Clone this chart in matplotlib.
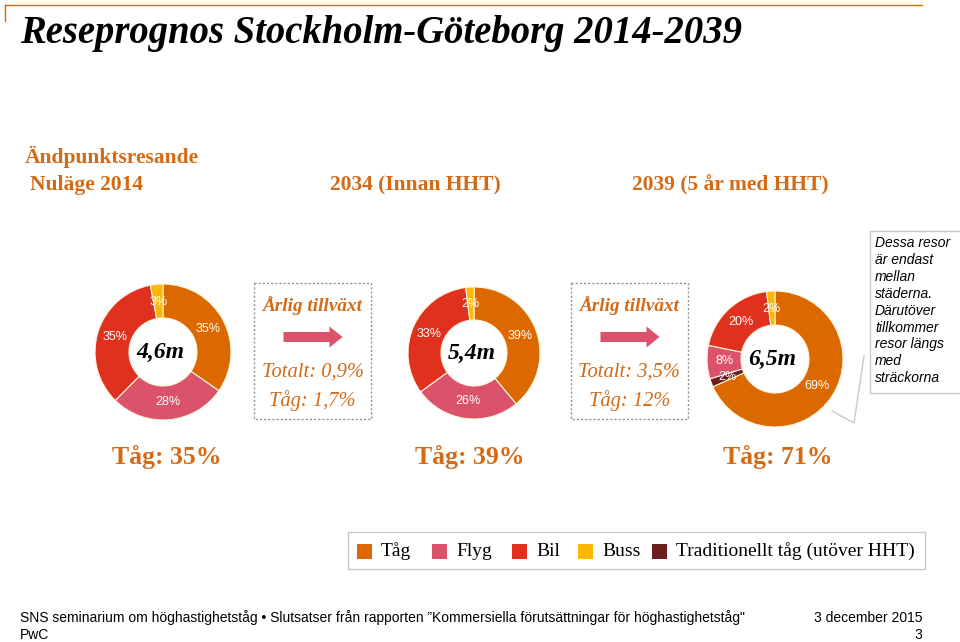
import numpy as np
import matplotlib
matplotlib.use("Agg")
import matplotlib.pyplot as plt
from matplotlib.patches import Rectangle, FancyArrow

# ---- data ----
modes = ["Tåg", "Flyg", "Bil", "Buss", "Traditionellt tåg (utöver HHT)"]
mode_colors = ["#DC6900", "#DB536A", "#E0301E", "#FFB600", "#6B1F1F"]

share_2014 = [35, 28, 35, 3]             # Tåg, Flyg, Bil, Buss
share_2034 = [39, 26, 33, 2]             # Tåg, Flyg, Bil, Buss
share_2039 = [69, 2, 8, 20, 2]           # Tåg, Trad. tåg, Flyg, Bil, Buss
order_2039 = [0, 4, 1, 2, 3]             # mode index per slice

totals = ["4,6m", "5,4m", "6,5m"]
period_labels = ["Nuläge 2014", "2034 (Innan HHT)", "2039 (5 år med HHT)"]
train_share = ["Tåg: 35%", "Tåg: 39%", "Tåg: 71%"]
growth_total = ["Totalt: 0,9%", "Totalt: 3,5%"]
growth_train = ["Tåg: 1,7%", "Tåg: 12%"]

ORANGE_TXT = "#D46A15"
SERIF = "Liberation Serif"
SANS = "Liberation Sans"

W, H = 960, 642
fig = plt.figure(figsize=(W / 100, H / 100), dpi=100)

# overlay in pixel coordinates
ax0 = fig.add_axes([0, 0, 1, 1])
ax0.set_xlim(0, W)
ax0.set_ylim(H, 0)
ax0.axis("off")

# header lines
ax0.plot([5, 922], [5, 5], color="#DC6900", lw=1)
ax0.plot([5, 5], [5, 21], color="#DC6900", lw=1)

ax0.text(20, 34, "Reseprognos Stockholm-Göteborg 2014-2039", fontsize=27.8,
         fontweight="bold", fontstyle="italic", family=SERIF, va="center", ha="left")
ax0.text(25, 157, "Ändpunktsresande", fontsize=15.5, fontweight="bold",
         family=SERIF, color=ORANGE_TXT, va="center")
for x, lab in zip([30, 330, 632], period_labels):
    ax0.text(x, 185, lab, fontsize=15.5, fontweight="bold", family=SERIF,
             color=ORANGE_TXT, va="center")

for x, lab in zip([167, 470, 778], train_share):
    ax0.text(x, 457, lab, fontsize=18.5, fontweight="bold", family=SERIF,
             color=ORANGE_TXT, va="center", ha="center")

# growth boxes
for (x0, x1), tot, trn in zip([(254, 371), (571, 688)], growth_total, growth_train):
    ax0.add_patch(Rectangle((x0, 283), x1 - x0, 136, fill=False,
                            ec="#9C8C9E", lw=1, ls=(0, (1.5, 1.5))))
    cx = (x0 + x1) / 2
    ax0.text(cx, 306, "Årlig tillväxt", fontsize=13.8, fontweight="bold",
             fontstyle="italic", family=SERIF, color=ORANGE_TXT, ha="center", va="center")
    ax0.add_patch(FancyArrow(cx - 29, 337, 46, 0, width=10, head_width=21,
                             head_length=13, length_includes_head=False,
                             color="#DB536A", lw=0))
    ax0.text(cx, 372, tot, fontsize=14.8, fontstyle="italic", family=SERIF,
             color=ORANGE_TXT, ha="center", va="center")
    ax0.text(cx, 401, trn, fontsize=14.8, fontstyle="italic", family=SERIF,
             color=ORANGE_TXT, ha="center", va="center")

# callout
ax0.add_patch(Rectangle((870, 231), 100, 162, fill=False, ec="#C8C8C8", lw=1))
callout = ["Dessa resor", "är endast", "mellan", "städerna.", "Därutöver",
           "tillkommer", "resor längs", "med", "sträckorna"]
for i, line in enumerate(callout):
    ax0.text(875, 243 + i * 16.9, line, fontsize=10, fontstyle="italic",
             family=SANS, va="center", ha="left")
ax0.plot([864, 854, 832], [356, 423, 411], color="#C8C8C8", lw=1)

# legend box
ax0.add_patch(Rectangle((348, 532), 577, 37, fill=False, ec="#C8C8C8", lw=1))
leg_x = [357, 432, 512, 578, 652]
for x, lab, col in zip(leg_x, modes, mode_colors):
    ax0.add_patch(Rectangle((x, 544), 15, 15, color=col, lw=0))
    ax0.text(x + 24, 551, lab, fontsize=14, family=SERIF, va="center", ha="left")

# footer
ax0.text(20, 618, "SNS seminarium om höghastighetståg • Slutsatser från rapporten "
         "”Kommersiella förutsättningar för höghastighetståg\"", fontsize=10,
         family=SANS, va="center", ha="left")
ax0.text(20, 635, "PwC", fontsize=10, family=SANS, va="center", ha="left")
ax0.text(922, 618, "3 december 2015", fontsize=10, family=SANS, va="center", ha="right")
ax0.text(922, 635, "3", fontsize=10, family=SANS, va="center", ha="right")


# ---- donuts ----
def donut(cx, cy, R, values, color_idx, total):
    ax = fig.add_axes([(cx - R) / W, 1 - (cy + R) / H, 2 * R / W, 2 * R / H])
    wedges, _ = ax.pie(values, colors=[mode_colors[i] for i in color_idx],
                       startangle=90, counterclock=False, radius=1,
                       wedgeprops=dict(width=0.5, edgecolor="#FFF6E0", linewidth=0.8))
    for w, v in zip(wedges, values):
        ang = np.deg2rad((w.theta1 + w.theta2) / 2)
        ax.text(0.74 * np.cos(ang), 0.74 * np.sin(ang), f"{v}%", color="white",
                fontsize=9, family=SANS, ha="center", va="center")
    ax.text(-0.04, 0, total, fontsize=17, fontweight="bold", fontstyle="italic",
            family=SERIF, ha="center", va="center")
    ax.set_xlim(-1, 1)
    ax.set_ylim(-1, 1)
    ax.axis("off")


donut(163, 352, 68, share_2014, [0, 1, 2, 3], totals[0])
donut(474, 353, 66, share_2034, [0, 1, 2, 3], totals[1])
donut(775, 359, 68, share_2039, order_2039, totals[2])

fig.savefig("out.png", dpi=100)
